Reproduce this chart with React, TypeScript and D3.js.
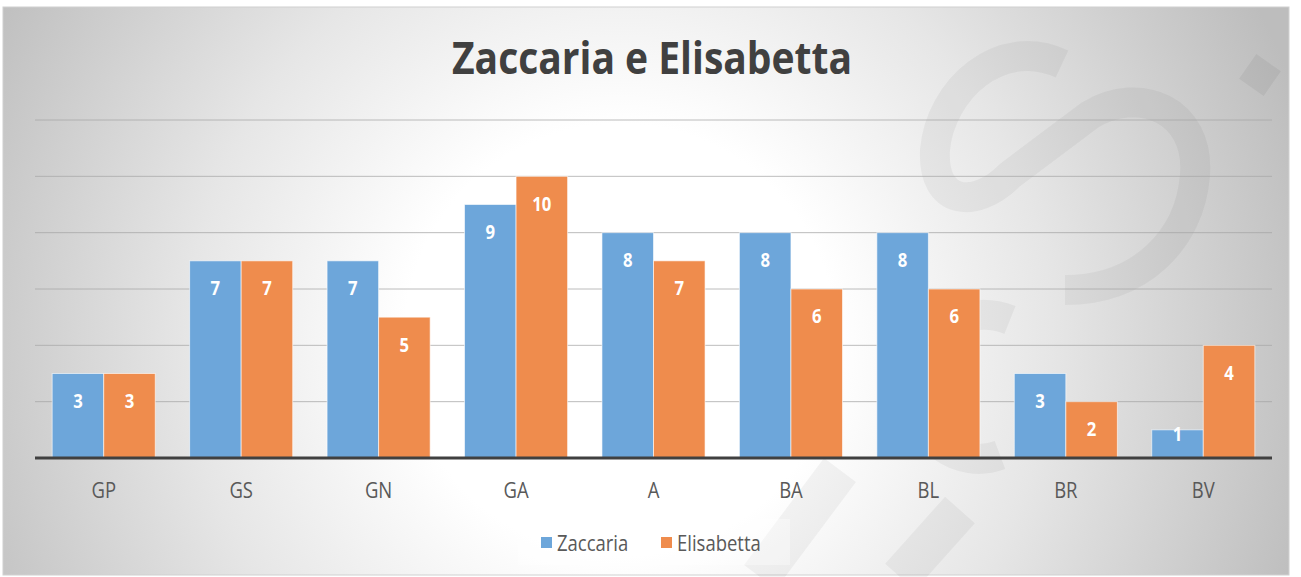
import React from "react";
import * as d3 from "d3";

const categories = ["GP", "GS", "GN", "GA", "A", "BA", "BL", "BR", "BV"];
const zaccaria = [3, 7, 7, 9, 8, 8, 8, 3, 1];
const elisabetta = [3, 7, 5, 10, 7, 6, 6, 2, 4];
const seriesNames = ["Zaccaria", "Elisabetta"];
const gridTicks = [2, 4, 6, 8, 10, 12];
const title = "Zaccaria e Elisabetta";

const W = 1301;
const H = 577;
const colors = ["#6DA6DA", "#EF8C4D"];
const font = "'Open Sans', 'Noto Sans', sans-serif";
const SX = 0.88;

export default function App() {
  const x = d3.scaleBand<string>().domain(categories).range([35, 1272]).paddingInner(0.25).paddingOuter(0.125);
  const x1 = d3.scaleBand<string>().domain(seriesNames).range([0, x.bandwidth()]);
  const y = d3.scaleLinear().domain([0, 12]).range([458, 120]);
  const data = [zaccaria, elisabetta];

  return (
    <svg width={W} height={H} style={{ position: "absolute", left: 0, top: 0 }}>
      <defs>
        <radialGradient id="bg" cx={620} cy={340} r={720} gradientUnits="userSpaceOnUse">
          <stop offset="0" stopColor="#ffffff" />
          <stop offset="0.3" stopColor="#ffffff" />
          <stop offset="0.6" stopColor="#e6e6e6" />
          <stop offset="1" stopColor="#bdbdbd" />
        </radialGradient>
      </defs>
      <rect x={0} y={0} width={W} height={H} fill="#ffffff" />
      <rect x={3} y={7} width={1286} height={568} fill="url(#bg)" stroke="#d0d0d0" strokeWidth={1} />
      {/* faint watermark */}
      <g fill="none" stroke="#000" strokeOpacity={0.045} strokeWidth={30} strokeLinecap="butt">
        <path d="M1062,64 C1000,35 940,90 935,150 C932,205 975,210 1010,175 L1090,115 C1140,85 1200,110 1195,175 C1190,240 1140,290 1065,290" />
        <path d="M1010,320 C960,300 915,340 915,390 C915,440 960,470 1000,455" />
        <path d="M760,577 L840,470" strokeWidth={40} />
        <path d="M900,577 L960,510" strokeWidth={40} />
      </g>
      <rect x={1245} y={60} width={30} height={30} fill="#000" fillOpacity={0.05} transform="rotate(35 1260 75)" />

      <text x={652} y={74} textAnchor="middle" fontFamily={font} fontWeight={700} fontSize={44} fill="#404040" textLength={400} lengthAdjust="spacingAndGlyphs">
        {title}
      </text>

      {gridTicks.map((t) => (
        <line key={t} x1={35} x2={1272} y1={y(t)} y2={y(t)} stroke="#a6a6a6" strokeOpacity={0.75} strokeWidth={1} />
      ))}

      {categories.map((c, i) => (
        <g key={c} transform={`translate(${x(c)},0)`}>
          {seriesNames.map((s, j) => {
            const v = data[j][i];
            const bx = x1(s)!;
            const h = y(0) - y(v);
            const ly = h >= 50 ? y(v) + 27 : y(v) + 4;
            return (
              <g key={s}>
                <rect x={bx} y={y(v)} width={x1.bandwidth()} height={h} fill={colors[j]} stroke="#ffffff" strokeOpacity={0.6} strokeWidth={1} />
                <text
                  transform={`translate(${bx + x1.bandwidth() / 2},${ly}) scale(${SX},1)`}
                  textAnchor="middle"
                  dominantBaseline="central"
                  fontFamily={font}
                  fontWeight={700}
                  fontSize={19}
                  fill="#ffffff"
                >
                  {v}
                </text>
              </g>
            );
          })}
          <text
            transform={`translate(${x.bandwidth() / 2},498) scale(${SX},1)`}
            textAnchor="middle"
            fontFamily={font}
            fontSize={21}
            fill="#595959"
          >
            {c}
          </text>
        </g>
      ))}

      <line x1={35} x2={1272} y1={y(0)} y2={y(0)} stroke="#404040" strokeWidth={3} />

      <rect x={518} y={519} width={272} height={46} fill="#ffffff" fillOpacity={0.35} />
      {seriesNames.map((s, j) => {
        const lx = [541, 661][j];
        return (
          <g key={s}>
            <rect x={lx} y={537} width={11} height={11} fill={colors[j]} />
            <text transform={`translate(${lx + 16},551) scale(${SX},1)`} fontFamily={font} fontSize={21} fill="#595959">
              {s}
            </text>
          </g>
        );
      })}
    </svg>
  );
}
